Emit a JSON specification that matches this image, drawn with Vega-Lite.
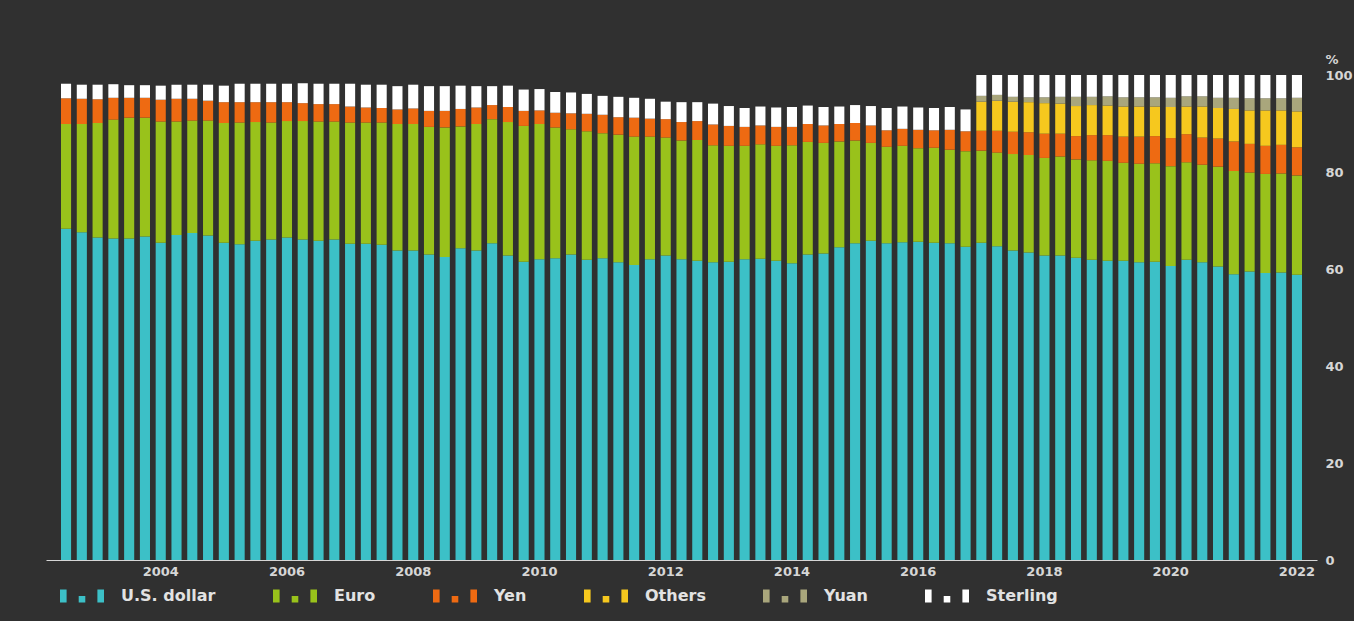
{
  "$schema": "https://vega.github.io/schema/vega-lite/v6.json",
  "width": 1271,
  "height": 485,
  "autosize": "none",
  "padding": {"left": 46, "top": 75, "right": 37, "bottom": 61},
  "background": "#303030",
  "config": {
    "view": {"stroke": null},
    "font": "DejaVu Sans"
  },
  "data": {
    "values": [
      {"q": "2002Q2", "dollar": 68.3, "Euro": 21.6, "Yen": 5.3, "Sterling": 3.0},
      {"q": "2002Q3", "dollar": 67.6, "Euro": 22.3, "Yen": 5.2, "Sterling": 2.9},
      {"q": "2002Q4", "dollar": 66.5, "Euro": 23.6, "Yen": 4.9, "Sterling": 3.0},
      {"q": "2003Q1", "dollar": 66.3, "Euro": 24.5, "Yen": 4.5, "Sterling": 2.8},
      {"q": "2003Q2", "dollar": 66.3, "Euro": 24.9, "Yen": 4.1, "Sterling": 2.6},
      {"q": "2003Q3", "dollar": 66.7, "Euro": 24.5, "Yen": 4.1, "Sterling": 2.6},
      {"q": "2003Q4", "dollar": 65.4, "Euro": 25.0, "Yen": 4.5, "Sterling": 2.9},
      {"q": "2004Q1", "dollar": 67.0, "Euro": 23.4, "Yen": 4.7, "Sterling": 2.9},
      {"q": "2004Q2", "dollar": 67.4, "Euro": 23.2, "Yen": 4.5, "Sterling": 2.9},
      {"q": "2004Q3", "dollar": 66.9, "Euro": 23.7, "Yen": 4.1, "Sterling": 3.3},
      {"q": "2004Q4", "dollar": 65.4, "Euro": 24.7, "Yen": 4.3, "Sterling": 3.4},
      {"q": "2005Q1", "dollar": 65.1, "Euro": 25.1, "Yen": 4.2, "Sterling": 3.8},
      {"q": "2005Q2", "dollar": 65.8, "Euro": 24.5, "Yen": 4.1, "Sterling": 3.8},
      {"q": "2005Q3", "dollar": 66.1, "Euro": 24.1, "Yen": 4.2, "Sterling": 3.8},
      {"q": "2005Q4", "dollar": 66.5, "Euro": 24.0, "Yen": 3.9, "Sterling": 3.8},
      {"q": "2006Q1", "dollar": 66.1, "Euro": 24.4, "Yen": 3.7, "Sterling": 4.1},
      {"q": "2006Q2", "dollar": 65.8, "Euro": 24.6, "Yen": 3.6, "Sterling": 4.2},
      {"q": "2006Q3", "dollar": 66.1, "Euro": 24.3, "Yen": 3.6, "Sterling": 4.2},
      {"q": "2006Q4", "dollar": 65.2, "Euro": 25.0, "Yen": 3.3, "Sterling": 4.7},
      {"q": "2007Q1", "dollar": 65.2, "Euro": 25.0, "Yen": 3.1, "Sterling": 4.7},
      {"q": "2007Q2", "dollar": 65.0, "Euro": 25.2, "Yen": 3.0, "Sterling": 4.8},
      {"q": "2007Q3", "dollar": 63.8, "Euro": 26.1, "Yen": 3.0, "Sterling": 4.8},
      {"q": "2007Q4", "dollar": 63.8, "Euro": 26.1, "Yen": 3.2, "Sterling": 4.9},
      {"q": "2008Q1", "dollar": 63.0, "Euro": 26.3, "Yen": 3.3, "Sterling": 5.1},
      {"q": "2008Q2", "dollar": 62.5, "Euro": 26.7, "Yen": 3.4, "Sterling": 5.1},
      {"q": "2008Q3", "dollar": 64.3, "Euro": 25.1, "Yen": 3.6, "Sterling": 4.8},
      {"q": "2008Q4", "dollar": 63.8, "Euro": 26.1, "Yen": 3.4, "Sterling": 4.4},
      {"q": "2009Q1", "dollar": 65.3, "Euro": 25.6, "Yen": 2.9, "Sterling": 3.9},
      {"q": "2009Q2", "dollar": 62.8, "Euro": 27.5, "Yen": 3.1, "Sterling": 4.4},
      {"q": "2009Q3", "dollar": 61.5, "Euro": 28.0, "Yen": 3.1, "Sterling": 4.4},
      {"q": "2009Q4", "dollar": 62.0, "Euro": 27.9, "Yen": 2.8, "Sterling": 4.4},
      {"q": "2010Q1", "dollar": 62.2, "Euro": 27.0, "Yen": 3.0, "Sterling": 4.3},
      {"q": "2010Q2", "dollar": 63.0, "Euro": 25.8, "Yen": 3.3, "Sterling": 4.3},
      {"q": "2010Q3", "dollar": 61.9, "Euro": 26.5, "Yen": 3.6, "Sterling": 4.1},
      {"q": "2010Q4", "dollar": 62.2, "Euro": 25.8, "Yen": 3.8, "Sterling": 3.9},
      {"q": "2011Q1", "dollar": 61.4, "Euro": 26.3, "Yen": 3.6, "Sterling": 4.2},
      {"q": "2011Q2", "dollar": 60.8, "Euro": 26.5, "Yen": 3.9, "Sterling": 4.1},
      {"q": "2011Q3", "dollar": 62.0, "Euro": 25.3, "Yen": 3.7, "Sterling": 4.1},
      {"q": "2011Q4", "dollar": 62.8, "Euro": 24.3, "Yen": 3.8, "Sterling": 3.6},
      {"q": "2012Q1", "dollar": 62.0, "Euro": 24.5, "Yen": 3.8, "Sterling": 4.1},
      {"q": "2012Q2", "dollar": 61.7, "Euro": 24.9, "Yen": 3.9, "Sterling": 3.9},
      {"q": "2012Q3", "dollar": 61.4, "Euro": 24.1, "Yen": 4.3, "Sterling": 4.3},
      {"q": "2012Q4", "dollar": 61.5, "Euro": 23.9, "Yen": 4.1, "Sterling": 4.1},
      {"q": "2013Q1", "dollar": 62.0, "Euro": 23.4, "Yen": 3.9, "Sterling": 3.9},
      {"q": "2013Q2", "dollar": 62.1, "Euro": 23.6, "Yen": 3.9, "Sterling": 3.9},
      {"q": "2013Q3", "dollar": 61.7, "Euro": 23.7, "Yen": 3.9, "Sterling": 4.0},
      {"q": "2013Q4", "dollar": 61.2, "Euro": 24.3, "Yen": 3.8, "Sterling": 4.1},
      {"q": "2014Q1", "dollar": 63.0, "Euro": 23.2, "Yen": 3.7, "Sterling": 3.8},
      {"q": "2014Q2", "dollar": 63.2, "Euro": 22.8, "Yen": 3.6, "Sterling": 3.8},
      {"q": "2014Q3", "dollar": 64.5, "Euro": 21.8, "Yen": 3.6, "Sterling": 3.6},
      {"q": "2014Q4", "dollar": 65.3, "Euro": 21.2, "Yen": 3.6, "Sterling": 3.7},
      {"q": "2015Q1", "dollar": 65.8, "Euro": 20.2, "Yen": 3.6, "Sterling": 4.0},
      {"q": "2015Q2", "dollar": 65.3, "Euro": 19.9, "Yen": 3.4, "Sterling": 4.6},
      {"q": "2015Q3", "dollar": 65.5, "Euro": 19.9, "Yen": 3.5, "Sterling": 4.6},
      {"q": "2015Q4", "dollar": 65.6, "Euro": 19.3, "Yen": 3.8, "Sterling": 4.6},
      {"q": "2016Q1", "dollar": 65.4, "Euro": 19.6, "Yen": 3.6, "Sterling": 4.6},
      {"q": "2016Q2", "dollar": 65.3, "Euro": 19.3, "Yen": 4.1, "Sterling": 4.7},
      {"q": "2016Q3", "dollar": 64.6, "Euro": 19.7, "Yen": 4.1, "Sterling": 4.5},
      {"q": "2016Q4", "dollar": 65.4, "Euro": 19.0, "Yen": 4.1, "Others": 6.0, "Yuan": 1.2, "Sterling": 4.3},
      {"q": "2017Q1", "dollar": 64.7, "Euro": 19.3, "Yen": 4.5, "Others": 6.2, "Yuan": 1.2, "Sterling": 4.1},
      {"q": "2017Q2", "dollar": 63.8, "Euro": 19.9, "Yen": 4.6, "Others": 6.2, "Yuan": 1.0, "Sterling": 4.5},
      {"q": "2017Q3", "dollar": 63.4, "Euro": 20.1, "Yen": 4.7, "Others": 6.2, "Yuan": 1.0, "Sterling": 4.6},
      {"q": "2017Q4", "dollar": 62.8, "Euro": 20.1, "Yen": 5.0, "Others": 6.3, "Yuan": 1.2, "Sterling": 4.6},
      {"q": "2018Q1", "dollar": 62.8, "Euro": 20.4, "Yen": 4.7, "Others": 6.2, "Yuan": 1.4, "Sterling": 4.5},
      {"q": "2018Q2", "dollar": 62.3, "Euro": 20.3, "Yen": 4.8, "Others": 6.2, "Yuan": 1.9, "Sterling": 4.5},
      {"q": "2018Q3", "dollar": 61.9, "Euro": 20.5, "Yen": 5.2, "Others": 6.2, "Yuan": 1.7, "Sterling": 4.5},
      {"q": "2018Q4", "dollar": 61.7, "Euro": 20.6, "Yen": 5.3, "Others": 6.1, "Yuan": 1.9, "Sterling": 4.4},
      {"q": "2019Q1", "dollar": 61.7, "Euro": 20.2, "Yen": 5.4, "Others": 6.2, "Yuan": 1.9, "Sterling": 4.6},
      {"q": "2019Q2", "dollar": 61.4, "Euro": 20.3, "Yen": 5.6, "Others": 6.2, "Yuan": 1.9, "Sterling": 4.6},
      {"q": "2019Q3", "dollar": 61.5, "Euro": 20.3, "Yen": 5.6, "Others": 6.1, "Yuan": 1.9, "Sterling": 4.6},
      {"q": "2019Q4", "dollar": 60.6, "Euro": 20.6, "Yen": 5.8, "Others": 6.4, "Yuan": 1.9, "Sterling": 4.7},
      {"q": "2020Q1", "dollar": 61.9, "Euro": 20.1, "Yen": 5.8, "Others": 5.7, "Yuan": 2.1, "Sterling": 4.4},
      {"q": "2020Q2", "dollar": 61.4, "Euro": 20.1, "Yen": 5.6, "Others": 6.4, "Yuan": 2.1, "Sterling": 4.4},
      {"q": "2020Q3", "dollar": 60.5, "Euro": 20.6, "Yen": 5.8, "Others": 6.3, "Yuan": 2.1, "Sterling": 4.7},
      {"q": "2020Q4", "dollar": 58.9, "Euro": 21.3, "Yen": 6.1, "Others": 6.7, "Yuan": 2.3, "Sterling": 4.7},
      {"q": "2021Q1", "dollar": 59.5, "Euro": 20.4, "Yen": 5.9, "Others": 6.9, "Yuan": 2.5, "Sterling": 4.8},
      {"q": "2021Q2", "dollar": 59.2, "Euro": 20.4, "Yen": 5.8, "Others": 7.3, "Yuan": 2.5, "Sterling": 4.8},
      {"q": "2021Q3", "dollar": 59.3, "Euro": 20.4, "Yen": 5.9, "Others": 7.1, "Yuan": 2.5, "Sterling": 4.8},
      {"q": "2021Q4", "dollar": 58.8, "Euro": 20.5, "Yen": 5.8, "Others": 7.4, "Yuan": 2.8, "Sterling": 4.7}
    ]
  },
  "transform": [
    {"fold": ["dollar", "Euro", "Yen", "Others", "Yuan", "Sterling"], "as": ["currency", "share"]},
    {"filter": "isValid(datum.share) && datum.share > 0"},
    {"calculate": "indexof(['dollar','Euro','Yen','Others','Yuan','Sterling'], datum.currency)", "as": "rank"}
  ],
  "mark": {"type": "bar", "strokeWidth": 0},
  "encoding": {
    "x": {
      "field": "q",
      "type": "ordinal",
      "scale": {"paddingInner": 0.36, "paddingOuter": 0.95},
      "axis": {
        "title": null,
        "values": ["2003Q4", "2005Q4", "2007Q4", "2009Q4", "2011Q4", "2013Q4", "2015Q4", "2017Q4", "2019Q4", "2021Q4"],
        "labelExpr": "toNumber(slice(datum.value, 0, 4)) + 1",
        "labelAngle": 0,
        "ticks": false,
        "tickSize": 0,
        "labelPadding": 5,
        "labelFont": "DejaVu Sans",
        "labelFontWeight": "bold",
        "labelFontSize": 13,
        "labelColor": "#d6d6d6",
        "domainColor": "#d6d6d6",
        "domainWidth": 1
      }
    },
    "y": {
      "field": "share",
      "type": "quantitative",
      "stack": "zero",
      "scale": {"domain": [0, 100], "nice": false},
      "axis": {
        "orient": "right",
        "values": [0, 20, 40, 60, 80, 100],
        "grid": false,
        "domain": false,
        "ticks": false,
        "tickSize": 0,
        "labelPadding": 8,
        "labelFont": "DejaVu Sans",
        "labelFontWeight": "bold",
        "labelFontSize": 13,
        "labelColor": "#d6d6d6",
        "title": "%",
        "titleAngle": 0,
        "titleX": 8,
        "titleY": -12,
        "titleAlign": "left",
        "titleBaseline": "alphabetic",
        "titleFont": "DejaVu Sans",
        "titleFontWeight": "bold",
        "titleFontSize": 13,
        "titleColor": "#d6d6d6"
      }
    },
    "color": {
      "field": "currency",
      "type": "nominal",
      "scale": {
        "domain": ["dollar", "Euro", "Yen", "Others", "Yuan", "Sterling"],
        "range": ["#3cc0c7", "#99c21b", "#ee6a12", "#f6c81e", "#a9a67c", "#ffffff"]
      },
      "legend": {
        "title": null,
        "orient": "none",
        "legendX": 14,
        "legendY": 499,
        "direction": "horizontal",
        "columns": 6,
        "columnPadding": 57,
        "padding": 0,
        "symbolType": "M-1,-0.3H-0.7V0.3H-1Z M-0.15,0H0.15V0.3H-0.15Z M0.7,-0.3H1V0.3H0.7Z",
        "symbolSize": 1936,
        "symbolStrokeWidth": 0,
        "symbolOpacity": 1,
        "labelOffset": 17,
        "labelFont": "DejaVu Sans",
        "labelFontWeight": "bold",
        "labelFontSize": 16,
        "labelColor": "#e2e2e2",
        "labelLimit": 300,
        "labelExpr": "datum.label == 'dollar' ? 'U.S. dollar' : datum.label"
      }
    },
    "order": {"field": "rank", "type": "quantitative"}
  }
}
